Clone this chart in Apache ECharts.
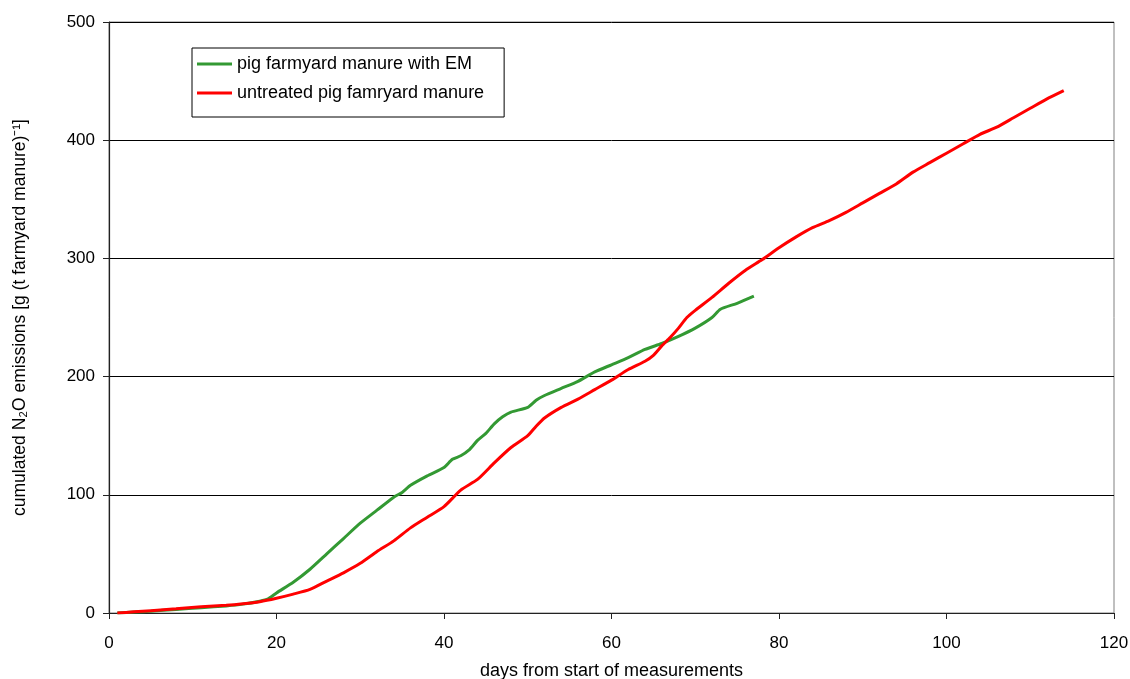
<!DOCTYPE html>
<html>
<head>
<meta charset="utf-8">
<script src="https://cdn.jsdelivr.net/npm/echarts@6/dist/echarts.min.js"></script>
<style>
  html, body { margin: 0; padding: 0; background: #ffffff; }
  #chart { width: 1130px; height: 679px; }
</style>
</head>
<body>
<div id="chart"></div>
<script>
// Cumulated N2O emissions per tonne of pig farmyard manure, by day of measurement
const seriesNames = ['pig farmyard manure with EM', 'untreated pig famryard manure'];

// [day, cumulated emission]
const withEM = [
  [1, 0], [3, 0.8], [5, 1.5], [8, 3], [11, 4.5], [14, 6], [16, 7.5], [18, 10],
  [19, 12], [20, 17], [22, 26], [24, 37], [26, 50], [28, 63], [30, 76], [32, 87],
  [34, 98], [35, 102], [36, 108], [38, 116], [40, 123], [41, 130], [42, 133],
  [43, 138], [44, 146], [45, 152], [46, 160], [47, 166], [48, 170], [50, 174],
  [51, 180], [52, 184], [54, 190], [56, 196], [58, 204], [60, 210], [62, 216],
  [64, 223], [66, 228], [68, 234], [70, 241], [72, 250], [73, 257], [75, 262],
  [77, 268]
];

const untreated = [
  [1, 0], [3, 1], [5, 2], [8, 3.5], [11, 5.3], [14, 6.5], [16, 7.8], [18, 9.6],
  [20, 12.5], [22, 16], [24, 20], [26, 27], [28, 34], [30, 42], [32, 52],
  [34, 61], [36, 72], [38, 81], [40, 90], [42, 104], [44, 113], [46, 127],
  [48, 140], [50, 150], [51, 158], [52, 165], [54, 174], [56, 181], [58, 189],
  [60, 197], [62, 206], [64, 213], [65, 218], [66, 226], [67, 233], [68, 241],
  [69, 250], [70, 256], [72, 267], [74, 279], [76, 290], [78, 299], [80, 309],
  [82, 318], [84, 326], [86, 332], [88, 339], [90, 347], [92, 355], [94, 363],
  [96, 373], [98, 381], [100, 389], [102, 397], [104, 405], [106, 411],
  [108, 419], [110, 427], [112, 435], [114, 442]
];

const xTitle = 'days from start of measurements';
const yTitle = 'cumulated N\u2082O emissions [g (t farmyard manure)\u207B\u00B9]';

const FONT = '"Liberation Sans", Arial, sans-serif';
const chart = echarts.init(document.getElementById('chart'), null, { renderer: 'canvas' });

chart.setOption({
  animation: false,
  backgroundColor: '#ffffff',
  textStyle: { fontFamily: FONT, color: '#000' },
  grid: {
    left: 109, top: 22, right: 16, bottom: 66,
    outerBoundsMode: 'none',
    containLabel: false,
    show: true, borderColor: '#808080', borderWidth: 1, backgroundColor: 'transparent'
  },
  legend: {
    orient: 'vertical',
    left: 192, top: 48,
    padding: [7, 20, 15, 5],
    icon: 'rect',
    itemWidth: 35, itemHeight: 3, itemGap: 11,
    borderColor: '#000', borderWidth: 1,
    backgroundColor: '#fff',
    textStyle: { fontFamily: FONT, fontSize: 18, color: '#000' },
    data: seriesNames
  },
  xAxis: {
    type: 'value',
    min: 0, max: 120, interval: 20,
    name: xTitle,
    nameLocation: 'middle',
    nameGap: 49,
    nameTextStyle: { fontFamily: FONT, fontSize: 18, color: '#000' },
    axisLine: { lineStyle: { color: '#222', width: 1.2 } },
    axisTick: { show: true, inside: false, length: 6, lineStyle: { color: '#222' } },
    axisLabel: { fontFamily: FONT, fontSize: 17, color: '#000', margin: 22 },
    splitLine: { show: false }
  },
  yAxis: {
    type: 'value',
    min: 0, max: 500, interval: 100,
    name: yTitle,
    nameLocation: 'middle',
    nameGap: 80,
    nameRotate: 90,
    nameTextStyle: { fontFamily: FONT, fontSize: 17.5, color: '#000' },
    axisLine: { show: true, lineStyle: { color: '#222', width: 1.2 } },
    axisTick: { show: true, inside: false, length: 6, lineStyle: { color: '#222' } },
    axisLabel: { fontFamily: FONT, fontSize: 17, color: '#000', margin: 14 },
    splitLine: { show: true, lineStyle: { color: '#000', width: 1 } }
  },
  series: [
    {
      name: seriesNames[0],
      type: 'line',
      data: withEM,
      symbol: 'none',
      smooth: 0.2,
      lineStyle: { color: '#339933', width: 3 },
      itemStyle: { color: '#339933' },
      z: 3
    },
    {
      name: seriesNames[1],
      type: 'line',
      data: untreated,
      symbol: 'none',
      smooth: 0.2,
      lineStyle: { color: '#ff0000', width: 3 },
      itemStyle: { color: '#ff0000' },
      z: 4
    }
  ]
});
</script>
</body>
</html>
